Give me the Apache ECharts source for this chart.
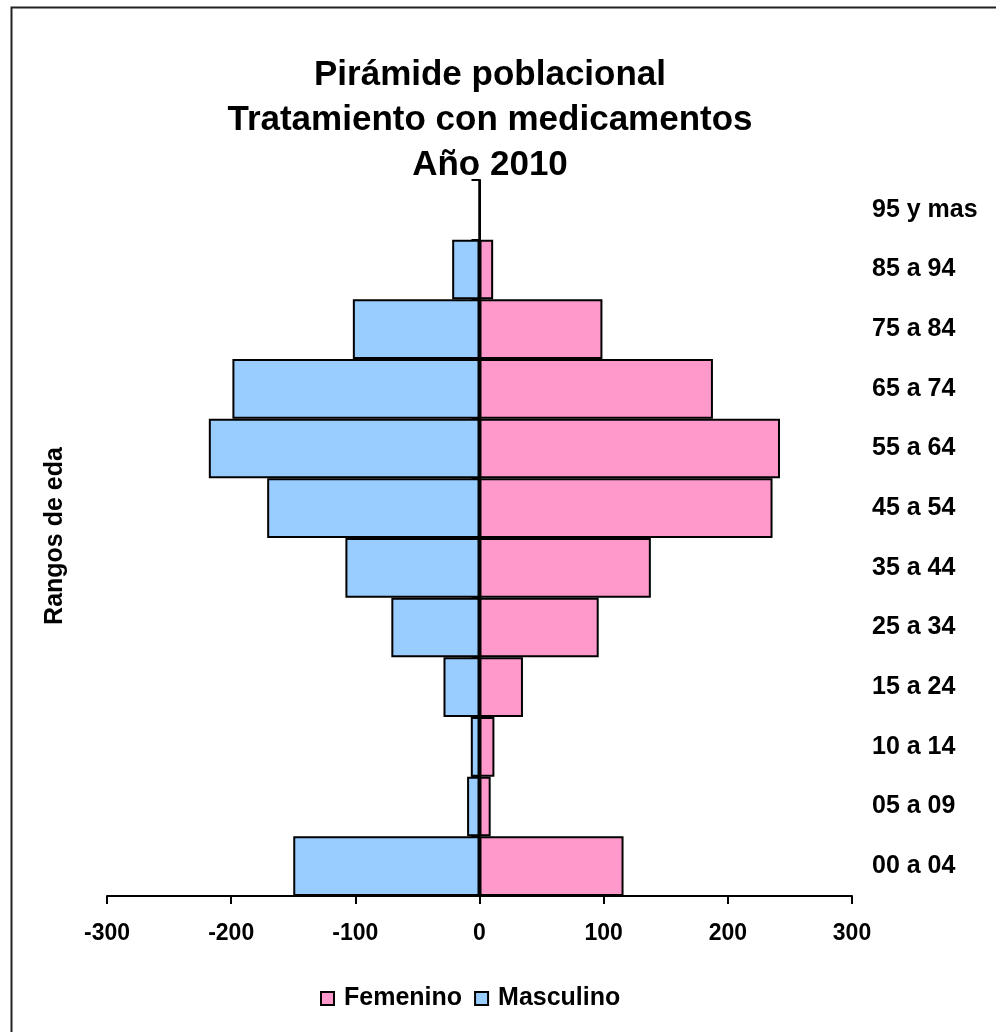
<!DOCTYPE html>
<html>
<head>
<meta charset="utf-8">
<script src="https://cdn.jsdelivr.net/npm/echarts@6/dist/echarts.min.js"></script>
<style>
html,body{margin:0;padding:0;background:#fff;}
#chart{width:996px;height:1032px;}
</style>
</head>
<body>
<div id="chart"></div>
<script>
const categories = ["00 a 04","05 a 09","10 a 14","15 a 24","25 a 34","35 a 44","45 a 54","55 a 64","65 a 74","75 a 84","85 a 94","95 y mas"];
const femenino = [116, 9, 12, 35, 96, 138, 236, 242, 188, 99, 11, 0];
const masculino = [-150, -10, -7, -29, -71, -108, -171, -218, -199, -102, -22, 0];
const xTicks = { min: -300, max: 300, interval: 100 };
const titleLines = ["Pirámide poblacional", "Tratamiento con medicamentos", "Año 2010"];
const yAxisName = "Rangos de eda";

const FONT = "'Liberation Sans', Arial, sans-serif";
const chart = echarts.init(document.getElementById('chart'), null, {renderer: 'canvas'});

chart.setOption({
  backgroundColor: '#ffffff',
  animation: false,
  textStyle: { fontFamily: FONT },
  graphic: [
    { type: 'rect', left: 9, top: 5, z: -10,
      shape: { width: 1100, height: 1100 },
      style: { fill: 'none', stroke: '#222', lineWidth: 2 } },
    { type: 'text', x: 490, y: 53, z: 10,
      style: { text: titleLines.join('\n'), fill: '#000', font: "bold 35px " + FONT,
               lineHeight: 45, align: 'center', verticalAlign: 'top' } },
    { type: 'text', x: 55, y: 536, rotation: Math.PI / 2, z: 10,
      style: { text: yAxisName, fill: '#000', font: "bold 25px " + FONT,
               align: 'center', verticalAlign: 'middle' } }
  ],
  legend: {
    data: ['Femenino', 'Masculino'],
    left: 320, top: 986, padding: 0,
    itemWidth: 13, itemHeight: 13, itemGap: 12,
    icon: 'rect',
    textStyle: { fontSize: 25, fontWeight: 'bold', color: '#000', fontFamily: FONT, padding: [0, 0, 0, 5] }
  },
  grid: { left: 107, right: 144, top: 180, bottom: 136, containLabel: false },
  xAxis: {
    type: 'value', min: xTicks.min, max: xTicks.max, interval: xTicks.interval,
    splitLine: { show: false },
    axisLine: { show: true, lineStyle: { color: '#000', width: 2 } },
    axisTick: { show: true, length: 8, lineStyle: { color: '#000', width: 2 } },
    axisLabel: { fontSize: 23, fontWeight: 'bold', color: '#000', margin: 26, fontFamily: FONT }
  },
  yAxis: [
    { type: 'category', data: categories, position: 'left',
      axisLine: { show: true, onZero: true, lineStyle: { color: '#000', width: 2 } },
      axisTick: { show: true, length: 8, lineStyle: { color: '#000', width: 2 } },
      axisLabel: { show: false }, splitLine: { show: false } },
    { type: 'category', data: categories, position: 'right',
      axisLine: { show: false }, axisTick: { show: false },
      axisLabel: { fontSize: 25, fontWeight: 'bold', color: '#000', margin: 20, fontFamily: FONT, padding: [6, 0, 0, 0] },
      splitLine: { show: false } }
  ],
  series: [
    { name: 'Femenino', type: 'bar', stack: 'total', data: femenino,
      barCategoryGap: 0, barWidth: '100%',
      itemStyle: { color: '#FF99CC', borderColor: '#000', borderWidth: 2 } },
    { name: 'Masculino', type: 'bar', stack: 'total', data: masculino,
      barCategoryGap: 0, barWidth: '100%',
      itemStyle: { color: '#99CCFF', borderColor: '#000', borderWidth: 2 } }
  ]
});
</script>
</body>
</html>
